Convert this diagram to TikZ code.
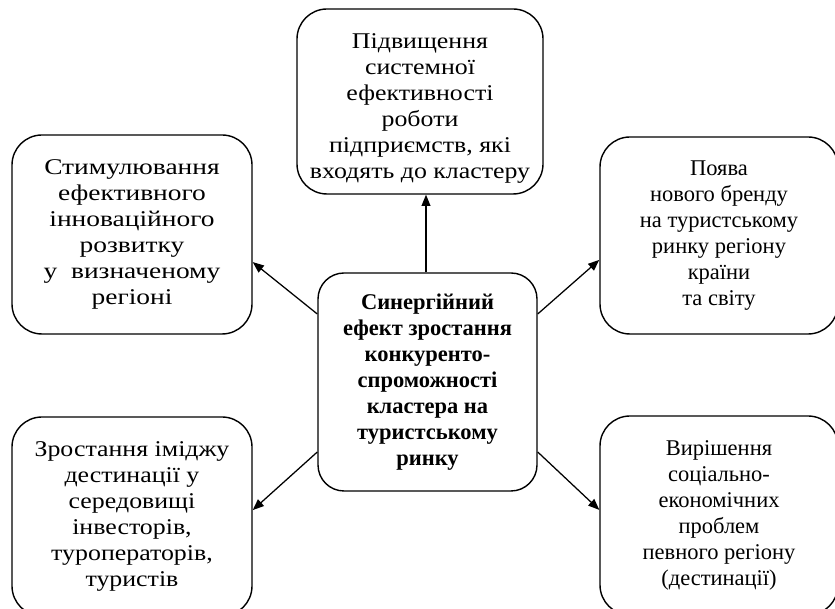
\documentclass[tikz,border=0pt]{standalone}
\usepackage{fontspec}
\setmainfont{Liberation Serif}
\newfontfamily\shyrokyi{Liberation Serif}[FakeStretch=1.22]
\newfontfamily\shyrshyi{Liberation Serif}[FakeStretch=1.15]
\usetikzlibrary{positioning, arrows.meta}

\tikzset{
	blok/.style={draw, line width=1pt, rounded corners=0.75cm, align=center, inner sep=0pt,
		font=\fontsize{16}{18.5}\selectfont},
	strilka/.style={-{Triangle[length=2.8mm,width=2.2mm]}, line width=0.9pt}
}

\begin{document}
\begin{tikzpicture}
	\useasboundingbox (0,0) rectangle (20.875,15.225);
	\clip (0,0) rectangle (20.875,15.225);

	% Центральний блок
	\node[blok, rounded corners=0.65cm, minimum width=5.475cm, minimum height=5.45cm,
		font=\fontsize{16}{18.5}\selectfont\bfseries] (efekt) at (10.6875,5.675)
		{Синергійний\\ефект зростання\\конкуренто-\\спроможності\\кластера на\\туристському\\ринку};

	% Блоки наслідків
	\node[blok, minimum width=6.15cm, minimum height=4.625cm,
		font=\fontsize{16}{18.5}\selectfont\shyrshyi] (sys) at (10.5,12.6875)
		{\rule{0pt}{20pt}Підвищення\\системної\\ефективності\\роботи\\підприємств, які\\входять до кластеру};
	\node[blok, minimum width=6cm, minimum height=4.975cm,
		font=\fontsize{16}{18.5}\selectfont\shyrokyi] (innov) at (3.3,9.3625)
		{Стимулювання\\ефективного\\інноваційного\\розвитку\\у\ \ визначеному\\регіоні};
	\node[blok, minimum width=5.95cm, minimum height=4.925cm] (brend) at (17.975,9.3375)
		{Поява\\нового бренду\\на туристському\\ринку регіону\\країни\\та світу};
	\node[blok, minimum width=6cm, minimum height=4.975cm,
		font=\fontsize{16}{18.5}\selectfont\shyrshyi] (imidzh) at (3.3,2.3125)
		{Зростання іміджу\\дестинації у\\середовищі\\інвесторів,\\туроператорів,\\туристів};
	\node[blok, minimum width=5.95cm, minimum height=4.975cm] (problem) at (17.975,2.3375)
		{Вирішення\\соціально-\\економічних\\проблем\\певного регіону\\(дестинації)};

	% Стрілки
	\draw[strilka] (efekt.north -| 10.65,0) -- (sys.south -| 10.65,0);
	\draw[strilka] ([yshift=1.7cm]efekt.west) -- ([yshift=-0.69cm]innov.east);
	\draw[strilka] ([yshift=1.7cm]efekt.east) -- ([yshift=-0.61cm]brend.west);
	\draw[strilka] ([yshift=-1.75cm]efekt.west) -- ([yshift=0.16cm]imidzh.east);
	\draw[strilka] ([yshift=-1.75cm]efekt.east) -- ([yshift=0.14cm]problem.west);

\end{tikzpicture}
\end{document}
